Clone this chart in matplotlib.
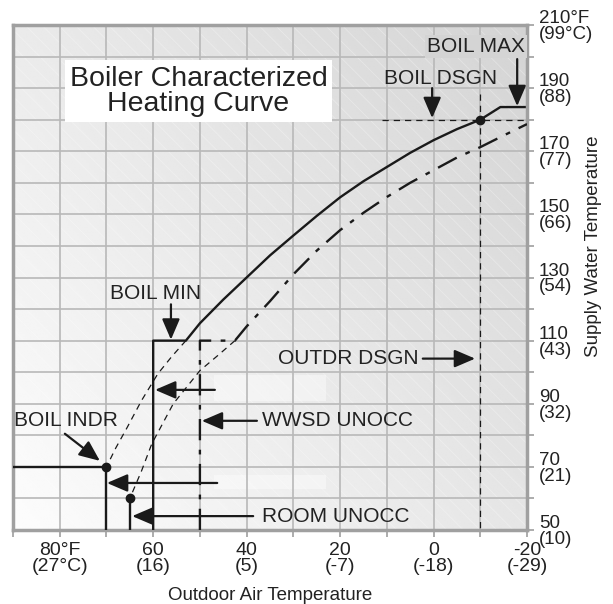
import numpy as np
import matplotlib.pyplot as plt
from matplotlib.patches import Rectangle

plt.rcParams['font.family'] = ['Liberation Sans', 'DejaVu Sans']
plt.rcParams['hatch.linewidth'] = 0.6
plt.rcParams['hatch.color'] = 'white'

# outdoor air temp (F) / supply water temp (F)
curve_oat = [53, 50, 45, 40, 35, 30, 25, 20, 15, 10, 5, 0, -5, -10, -14.3, -19.5]
curve_swt = [110, 115.5, 123, 130, 137, 143.3, 149.5, 155.4, 160.5, 165, 169.5, 173.5, 177, 180, 184, 184]

ext_oat = [53, 56, 59, 62.5, 65.6, 68, 70]
ext_swt = [110, 105, 99.5, 91, 82.4, 76, 70]

unocc_oat = [50, 50, 42.5, 40, 35, 30, 25, 20, 15, 10, 5, 0, -5, -10, -15, -20]
unocc_swt = [50, 110, 110, 114.5, 122.5, 131, 138.5, 145, 150.5, 155.5, 160, 164, 168, 171.3, 175, 178.6]

unocc_ext_oat = [42.5, 46, 50, 55.7, 60.3, 62.5, 65]
unocc_ext_swt = [110, 105.5, 100.5, 90, 77.3, 68.7, 60]

boil_min = 110
boil_min_oat = 60
boil_indr = (70, 70)
room_unocc = (65, 60)
boil_dsgn = 180
outdr_dsgn = -10
boil_max = 184

x_ticks = [90, 80, 70, 60, 50, 40, 30, 20, 10, 0, -10, -20]
x_labels = ['', '80°F\n(27°C)', '', '60\n(16)', '', '40\n(5)', '', '20\n(-7)', '', '0\n(-18)', '', '-20\n(-29)']
y_ticks = list(range(50, 211, 10))
y_labels = ['50\n(10)', '', '70\n(21)', '', '90\n(32)', '', '110\n(43)', '', '130\n(54)', '',
            '150\n(66)', '', '170\n(77)', '', '190\n(88)', '', '210°F\n(99°C)']

fig = plt.figure(figsize=(6.13, 6.04), dpi=100)
ax = fig.add_axes([13/613, 1-530/604, 514/613, 505/604])
ax.set_xlim(90, -20)
ax.set_ylim(50, 210)

# shaded background
gx, gy = np.meshgrid(np.linspace(0, 1, 200), np.linspace(0, 1, 200))
shade = 0.99 - 0.09*gx - 0.07*gy
ax.imshow(shade, cmap='gray', vmin=0, vmax=1, extent=[90, -20, 50, 210], origin='lower',
          aspect='auto', interpolation='bilinear', zorder=0)
ax.add_patch(Rectangle((90, 50), -110, 160, facecolor='none', edgecolor='white', alpha=0.3,
                       hatch='\\\\', lw=0, zorder=0.5))
# erased text bands
for yb in [(91, 99), (63, 67.5)]:
    ax.add_patch(Rectangle((47, yb[0]), -24, yb[1]-yb[0], facecolor='white', alpha=0.4,
                           lw=0, zorder=0.6))

ax.set_xticks(x_ticks)
ax.set_xticklabels(x_labels, fontsize=14, linespacing=0.92)
ax.set_yticks(y_ticks)
ax.set_yticklabels(y_labels, fontsize=13.5, linespacing=0.92)
ax.yaxis.tick_right()
ax.tick_params(colors='#9e9e9e', labelcolor='#222222', length=5, width=1.2, pad=3.5)
ax.grid(True, color='#b8b8b8', lw=1.2, zorder=1)
for s in ax.spines.values():
    s.set_color('#a0a0a0')
    s.set_linewidth(2.5)

k = '#1a1a1a'
# characterized curve
ax.plot([boil_min_oat, boil_min_oat] + curve_oat, [50, boil_min] + curve_swt, color=k, lw=1.7, zorder=3)
ax.plot(ext_oat, ext_swt, color=k, lw=0.9, ls=(0, (5, 4)), zorder=3)
ax.plot([90, boil_indr[0], boil_indr[0]], [boil_indr[1], boil_indr[1], 50], color=k, lw=1.7, zorder=3)
ax.plot(unocc_oat, unocc_swt, color=k, lw=1.7, ls=(0, (9, 4, 2, 4)), zorder=3)
ax.plot(unocc_ext_oat, unocc_ext_swt, color=k, lw=0.9, ls=(0, (5, 4)), zorder=3)
ax.plot([room_unocc[0], room_unocc[0]], [room_unocc[1], 50], color=k, lw=1.7, zorder=3)
ax.plot([11, -20], [boil_dsgn, boil_dsgn], color=k, lw=0.9, ls=(0, (5, 4)), zorder=3)
ax.plot([outdr_dsgn, outdr_dsgn], [188, 50], color=k, lw=0.9, ls=(0, (5, 4)), zorder=3)
ax.plot([boil_indr[0], room_unocc[0], outdr_dsgn], [boil_indr[1], room_unocc[1], boil_dsgn],
        'o', color=k, ms=6, zorder=4)

# title box
ax.add_patch(Rectangle((78.9, 179.2), -57.2, 19.7, facecolor='white', lw=0, zorder=2))
ax.text(50.3, 189, 'Boiler Characterized\nHeating Curve', fontsize=20.5, ha='center', va='center',
        color='#222222', linespacing=0.95, zorder=5)

aprops = dict(arrowstyle='-|>,head_length=0.7,head_width=0.3', color=k, lw=1.6,
              mutation_scale=18, shrinkA=0, shrinkB=0)
arrows = [((56.2, 110.3), (56.2, 121.5)),
          ((71.4, 71.9), (78.9, 80.5)),
          ((59.6, 94.4), (46.8, 94.4)),
          ((49.6, 84.6), (37.8, 84.6)),
          ((69.9, 64.9), (46.3, 64.9)),
          ((64.5, 54.4), (38.6, 54.4)),
          ((-8.9, 104.3), (2.3, 104.3)),
          ((0.3, 180.5), (0.3, 190)),
          ((-17.9, 184.3), (-17.9, 199.2))]
for tip, tail in arrows:
    ax.annotate('', xy=tip, xytext=tail, arrowprops=aprops, zorder=5)

fs = 15
ax.text(59.4, 124.9, 'BOIL MIN', fontsize=fs, ha='center', va='center', color='#222222', zorder=5)
ax.text(78.7, 84.6, 'BOIL INDR', fontsize=fs, ha='center', va='center', color='#222222', zorder=5)
ax.text(36.7, 84.6, 'WWSD UNOCC', fontsize=fs, ha='left', va='center', color='#222222', zorder=5)
ax.text(36.7, 54.4, 'ROOM UNOCC', fontsize=fs, ha='left', va='center', color='#222222', zorder=5)
ax.text(3.3, 104.3, 'OUTDR DSGN', fontsize=fs, ha='right', va='center', color='#222222', zorder=5)
ax.text(-1.6, 193.2, 'BOIL DSGN', fontsize=fs, ha='center', va='center', color='#222222', zorder=5)
ax.text(-19.6, 203.3, 'BOIL MAX', fontsize=fs, ha='right', va='center', color='#222222', zorder=5,
        bbox=dict(facecolor='#d4d4d4', edgecolor='none', pad=1.5))

fig.text(270/613, 1-595/604, 'Outdoor Air Temperature', fontsize=13.5, ha='center', va='center',
         color='#222222')
fig.text(594/613, 1-246/604, 'Supply Water Temperature', fontsize=13.5, rotation=90,
         ha='center', va='center', color='#222222')

fig.savefig('out.png', dpi=100)
